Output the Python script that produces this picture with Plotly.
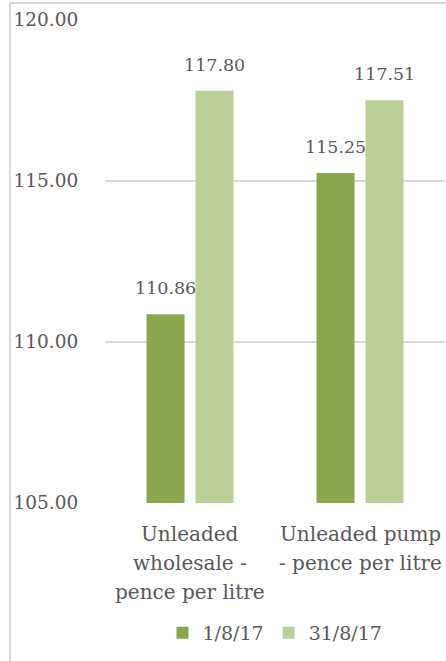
import plotly.graph_objects as go

categories = ["Unleaded wholesale - pence per litre", "Unleaded pump - pence per litre"]
category_lines = [["Unleaded", "wholesale -", "pence per litre"],
                  ["Unleaded pump", "- pence per litre"]]
series_names = ["1/8/17", "31/8/17"]
values_1 = [110.86, 115.25]
values_2 = [117.80, 117.51]
y_ticks = [105, 110, 115, 120]

colors = ["#8ba64c", "#bccf99"]
FONT = "DejaVu Serif"
GRAY = "#595959"

fig = go.Figure()
for name, vals, col in zip(series_names, [values_1, values_2], colors):
    fig.add_trace(go.Bar(
        x=categories, y=vals, name=name, marker_color=col,
        marker_line_width=0,
    ))

# data labels
offsets = [-24.5, 24.5]
for vals, dx in zip([values_1, values_2], offsets):
    for c, v in zip(categories, vals):
        fig.add_annotation(x=c, y=v, text=f"{v:.2f}", showarrow=False,
                           xshift=dx, yshift=14, yanchor="bottom",
                           font=dict(family=FONT, size=17.5, color=GRAY))

W, H = 446, 661
ml, mr, mt, mb = 105, 1, 20, 158
pw, ph = W - ml - mr, H - mt - mb

# category labels (one annotation per text line, Excel-like line spacing)
first_line_px, line_step_px = 534, 29
for c, lines in zip(categories, category_lines):
    for i, t in enumerate(lines):
        fig.add_annotation(x=c, xref="x", yref="paper",
                           y=-(first_line_px + i * line_step_px - (H - mb)) / ph,
                           text=t, showarrow=False, yanchor="middle",
                           font=dict(family=FONT, size=20, color=GRAY))

# chart frame
fig.add_shape(type="line", xref="paper", yref="paper",
              x0=(10 - ml) / pw, x1=(10 - ml) / pw, y0=-(mb + 5) / ph, y1=1 + 17 / ph,
              line=dict(color="#d9d9d9", width=2))
fig.add_shape(type="line", xref="paper", yref="paper",
              x0=(10 - ml) / pw, x1=1.1, y0=1 + 17 / ph, y1=1 + 17 / ph,
              line=dict(color="#d9d9d9", width=2))

fig.update_layout(
    width=W, height=H,
    margin=dict(l=ml, r=mr, t=mt, b=mb, pad=0),
    paper_bgcolor="white", plot_bgcolor="white",
    barmode="group", bargap=0.424, bargroupgap=0.224,
    font=dict(family=FONT, color=GRAY),
    showlegend=True,
    legend=dict(orientation="h", x=0.5, xanchor="center", y=-(633 - 503) / ph,
                yanchor="middle", font=dict(family=FONT, size=19, color=GRAY),
                itemwidth=30, traceorder="normal"),
    xaxis=dict(showline=False, showgrid=False, showticklabels=False),
    yaxis=dict(range=[105, 120], tickvals=y_ticks, tickformat=".2f",
               showgrid=True, gridcolor="#d9d9d9", gridwidth=1.5,
               zeroline=False, showline=False, ticks="outside", ticklen=22,
               tickcolor="rgba(0,0,0,0)",
               tickfont=dict(family=FONT, size=18.5, color=GRAY)),
)

fig.write_html("out.html", config={"displayModeBar": False},
               post_script="document.body.style.margin='0';document.body.style.overflow='hidden';")
